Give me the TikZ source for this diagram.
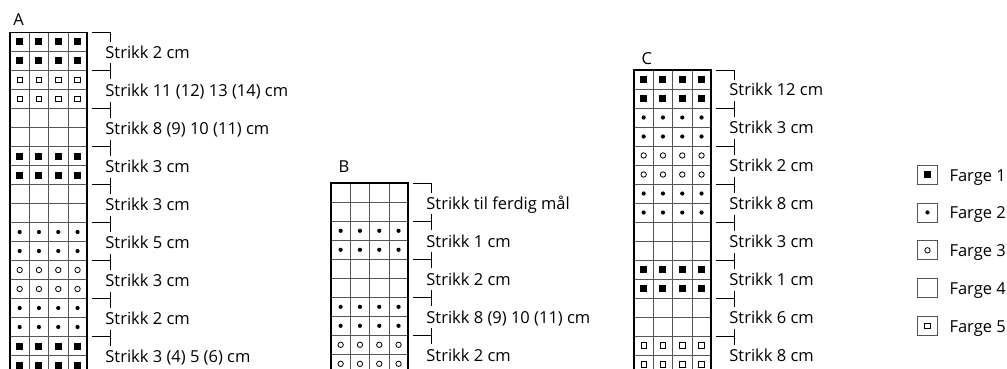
\documentclass[tikz,border=0pt]{standalone}
\usepackage{fontspec}
\setmainfont{Open Sans}
\usetikzlibrary{positioning}
\definecolor{ink}{HTML}{000000}
\definecolor{grid}{HTML}{555555}
\tikzset{
  cell/.style={draw=grid, line width=0.8pt, minimum width=19.3pt, minimum height=19pt,
               inner sep=0pt, outer sep=0pt},
  farge/.style={path picture={\ifcase#1\or
      \fill[ink] (path picture bounding box.center) ++(-3.5,-3.5) rectangle ++(7,7);\or
      \fill[ink] (path picture bounding box.center) circle (2.1);\or
      \draw[ink, line width=0.8pt] (path picture bounding box.center) circle (2.7);\or
      \or
      \draw[ink, line width=0.8pt] (path picture bounding box.center) ++(-2.7,-2.7) rectangle ++(5.4,5.4);
    \fi}},
  frame/.style={draw=ink, line width=1.9pt},
  brk/.style={draw=ink, line width=0.9pt},
  lbl/.style={font=\fontsize{16.5}{19}\selectfont, text=ink, inner sep=0pt, anchor=base west},
  title/.style={font=\fontsize{16.5}{19}\selectfont, text=ink, inner sep=0pt},
  legbox/.style={cell, minimum width=19.6pt},
  legtxt/.style={font=\fontsize{16.5}{19}\selectfont, text=ink, inner sep=0pt,
                 text height=13pt, text depth=0pt},
}
% one chart: name, left, top, last group, colour/text per group of two rows
\newcommand\strikkdiagram[5]{%
  \foreach \f/\tekst [count=\g from 0] in {#5} {
    \foreach \r in {0,1}
      \foreach \k in {0,...,3}
        \node[cell, farge=\f] (#1-\g-\r-\k) at ({#2+9.65+19.3*\k}, {#3+9.5+38*\g+19*\r}) {};
    \ifnum\g=0
      \draw[brk] ([xshift=5pt]#1-\g-0-3.north east) -- ++(18,0) -- ++(0,10);
    \else
      \draw[brk] ([xshift=5pt]#1-\g-0-3.north east) -- ++(18,0) ++(0,-7) -- ++(0,16);
    \fi
    \node[lbl] (#1-txt-\g) at ([xshift=18pt, yshift=-6.8pt]#1-\g-1-3.north east) {\tekst};
  }
  \draw[frame] (#1-0-0-0.north west) rectangle (#1-#4-1-3.south east);
}

\begin{document}
\begin{tikzpicture}[x=1pt, y=-1pt]
  \useasboundingbox (0,0) rectangle (1007,369);
  \clip (0,0) rectangle (1007,369);

  % charts
  \node[title] (A) at (18.7,20) {A};
  \strikkdiagram{a}{10}{32.5}{8}{1/Strikk 2 cm, 5/Strikk 11 (12) 13 (14) cm,
    4/Strikk 8 (9) 10 (11) cm, 1/Strikk 3 cm, 4/Strikk 3 cm, 2/Strikk 5 cm,
    3/Strikk 3 cm, 2/Strikk 2 cm, 1/Strikk 3 (4) 5 (6) cm}

  \node[title] (B) at (344,166.5) {B};
  \strikkdiagram{b}{331}{183.3}{4}{4/Strikk til ferdig mål, 2/Strikk 1 cm,
    4/Strikk 2 cm, 2/Strikk 8 (9) 10 (11) cm, 3/Strikk 2 cm}

  \node[title] (C) at (646.7,58.7) {C};
  \strikkdiagram{c}{634}{70}{7}{1/Strikk 12 cm, 2/Strikk 3 cm, 3/Strikk 2 cm,
    2/Strikk 8 cm, 4/Strikk 3 cm, 1/Strikk 1 cm, 4/Strikk 6 cm, 5/Strikk 8 cm}

  % legend
  \node[legbox, farge=1] (leg1) at (927.5,174.5) {};
  \node[legbox, farge=2, below=18.9pt of leg1] (leg2) {};
  \node[legbox, farge=3, below=18.9pt of leg2] (leg3) {};
  \node[legbox, farge=4, below=18.9pt of leg3] (leg4) {};
  \node[legbox, farge=5, below=18.9pt of leg4] (leg5) {};
  \foreach \n in {1,...,5}
    \node[legtxt, right=12pt of leg\n] (leg\n txt) {Farge \n};
\end{tikzpicture}
\end{document}
